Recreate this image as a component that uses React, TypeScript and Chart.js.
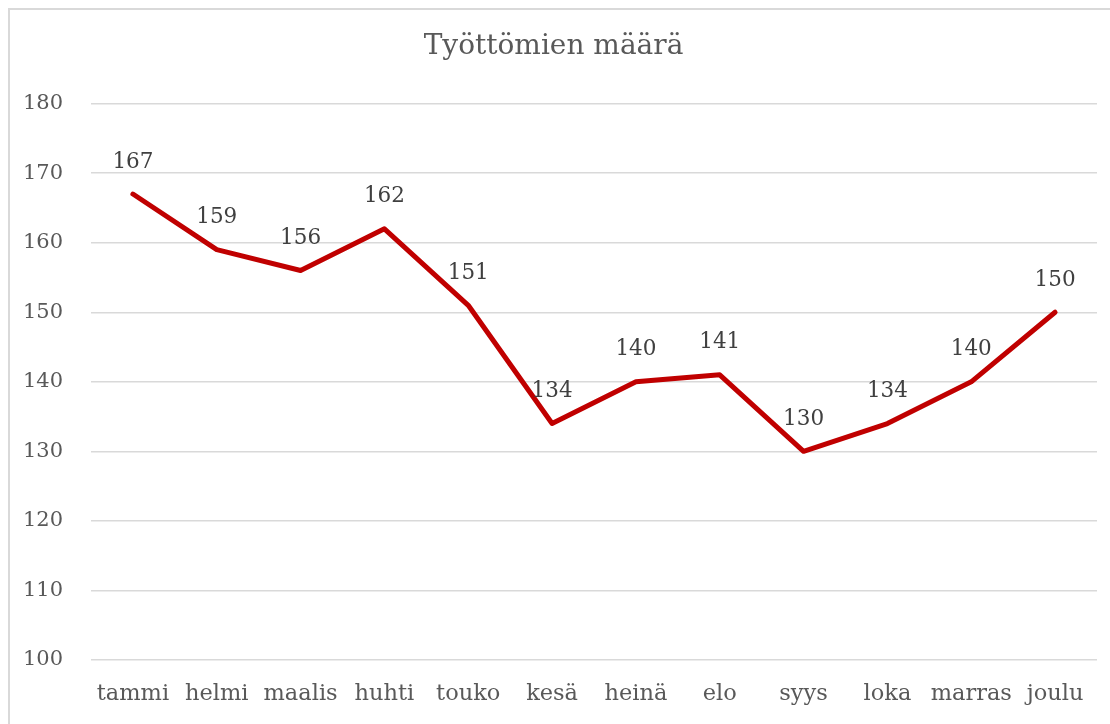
import React, { useEffect, useRef } from "react";
import { Chart, registerables } from "chart.js";

Chart.register(...registerables);

const TITLE = "Työttömien määrä";
const MONTHS = ["tammi", "helmi", "maalis", "huhti", "touko", "kesä", "heinä", "elo", "syys", "loka", "marras", "joulu"];
const VALUES = [167, 159, 156, 162, 151, 134, 140, 141, 130, 134, 140, 150];
const Y_MIN = 100;
const Y_MAX = 180;
const Y_STEP = 10;

const FONT = "'DejaVu Serif', serif";

const dataLabels = {
  id: "dataLabels",
  afterDatasetsDraw(chart: any) {
    const ctx = chart.ctx;
    const meta = chart.getDatasetMeta(0);
    ctx.save();
    ctx.font = `21.5px ${FONT}`;
    ctx.fillStyle = "#404040";
    ctx.textAlign = "center";
    ctx.textBaseline = "middle";
    meta.data.forEach((pt: any, i: number) => {
      ctx.fillText(String(VALUES[i]), pt.x, pt.y - 32);
    });
    ctx.restore();
  },
};

export default function App() {
  const ref = useRef<HTMLCanvasElement>(null);
  useEffect(() => {
    document.body.style.overflow = "hidden";
    if (!ref.current) return;
    const chart = new Chart(ref.current, {
      type: "line",
      data: {
        labels: MONTHS,
        datasets: [
          {
            data: VALUES,
            borderColor: "#C00000",
            borderWidth: 5,
            pointRadius: 0,
            tension: 0,
            fill: false,
            borderJoinStyle: "round",
            borderCapStyle: "round",
          },
        ],
      },
      options: {
        animation: false,
        responsive: false,
        maintainAspectRatio: false,
        layout: { padding: { top: 0, right: 13, bottom: 0, left: 0 } },
        plugins: {
          legend: { display: false },
          tooltip: { enabled: false },
          title: {
            display: true,
            text: TITLE,
            color: "#595959",
            font: { family: FONT, size: 28, weight: "normal" },
            padding: { top: 20, bottom: 40 },
          },
        },
        scales: {
          x: {
            offset: true,
            grid: { display: false, drawTicks: false },
            border: { display: false },
            ticks: {
              color: "#595959",
              font: { family: FONT, size: 22.5 },
              padding: 21,
              maxRotation: 0,
              autoSkip: false,
            },
            afterFit(scale: any) {
              scale.height = 56;
            },
          },
          y: {
            min: Y_MIN,
            max: Y_MAX,
            grid: { color: "#d9d9d9", lineWidth: 1.5, drawTicks: false },
            border: { display: false },
            ticks: {
              stepSize: Y_STEP,
              color: "#595959",
              font: { family: FONT, size: 21 },
              padding: 28,
            },
            afterFit(scale: any) {
              scale.width = 81;
            },
          },
        },
      },
      plugins: [dataLabels],
    });
    return () => chart.destroy();
  }, []);
  return (
    <div
      style={{
        position: "fixed",
        left: 8,
        top: 8,
        right: -20,
        bottom: -20,
        overflow: "hidden",
        borderLeft: "2px solid #d9d9d9",
        borderTop: "2px solid #d9d9d9",
        background: "#fff",
      }}
    >
      <canvas ref={ref} width={1100} height={706} style={{ display: "block" }} />
    </div>
  );
}
